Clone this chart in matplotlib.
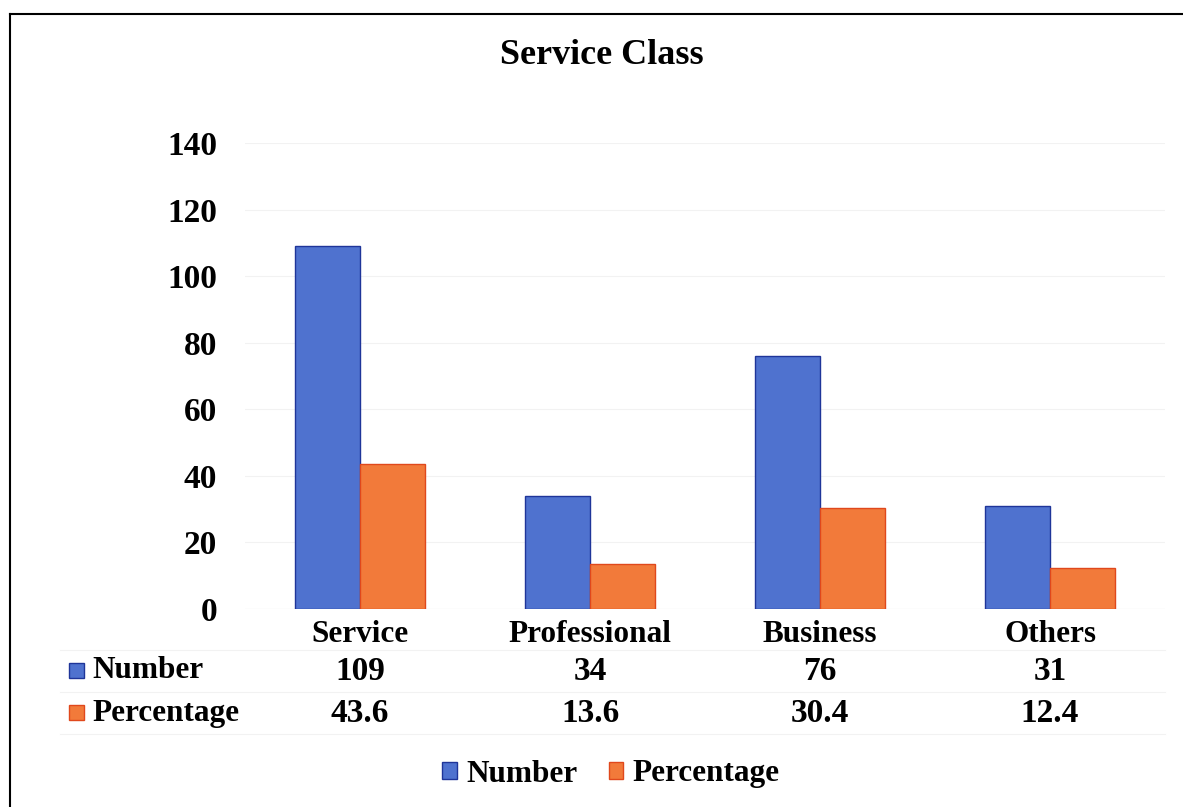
import matplotlib
matplotlib.use("Agg")
import matplotlib.pyplot as plt
from matplotlib.patches import Rectangle
from matplotlib.lines import Line2D
from matplotlib.transforms import blended_transform_factory
import numpy as np

categories = ["Service", "Professional", "Business", "Others"]
number = [109, 34, 76, 31]
percentage = [43.6, 13.6, 30.4, 12.4]
percentage_labels = ["43.6", "13.6", "30.4", "12.4"]
yticks = [0, 20, 40, 60, 80, 100, 120, 140]

plt.rcParams['font.family'] = ['Liberation Serif', 'DejaVu Serif']
plt.rcParams['font.weight'] = 'bold'

W, H = 1183, 807
fig = plt.figure(figsize=(W / 100, H / 100), dpi=100)

blue, blue_e = '#4F72CF', '#1F3599'
orange, orange_e = '#F27A3A', '#E0481C'
TXT = 22.5
NUM = 24

ax = fig.add_axes([245 / W, 1 - 609 / H, 920 / W, 466 / H])
x = np.arange(len(categories))
bw = 0.283
ax.bar(x - bw / 2, number, bw, color=blue, edgecolor=blue_e, linewidth=1.0, zorder=3)
ax.bar(x + bw / 2, percentage, bw, color=orange, edgecolor=orange_e, linewidth=1.0, zorder=3)
ax.set_xlim(-0.5, len(categories) - 0.5)
ax.set_ylim(0, 140)
ax.set_yticks(yticks)
ax.set_yticklabels([str(t) for t in yticks], fontsize=NUM, fontweight='bold')
ax.tick_params(axis='y', length=0, pad=20)
ax.set_xticks([])
for s in ax.spines.values():
    s.set_visible(False)
ax.grid(axis='y', color='#f2f2f2', linewidth=0.8, zorder=0)
ax.axhline(0, color='#e6e6e6', linewidth=0.8, zorder=2)

fig.text(602 / W, 1 - 56 / H, "Service Class", ha='center', va='center',
         fontsize=26, fontweight='bold')

tr = blended_transform_factory(ax.transData, fig.transFigure)
for i, c in enumerate(categories):
    ax.text(i, 1 - 634 / H, c, transform=tr, ha='center', va='center', fontsize=TXT, fontweight='bold')
    ax.text(i, 1 - 672 / H, str(number[i]), transform=tr, ha='center', va='center', fontsize=NUM, fontweight='bold')
    ax.text(i, 1 - 714 / H, percentage_labels[i], transform=tr, ha='center', va='center', fontsize=NUM, fontweight='bold')

# table row labels with keys
for ypix, lab, fc, ec in [(671, "Number", blue, blue_e), (713, "Percentage", orange, orange_e)]:
    fig.patches.append(Rectangle((69 / W, 1 - (ypix + 7) / H), 15 / W, 15 / H,
                                 transform=fig.transFigure, facecolor=fc, edgecolor=ec, linewidth=1))
    fig.text(92 / W, 1 - ypix / H, lab, ha='left', va='center', fontsize=TXT, fontweight='bold')

# faint table lines
for ypix in [650, 692, 734]:
    fig.lines.append(Line2D([60 / W, 1165 / W], [1 - ypix / H] * 2, transform=fig.transFigure,
                            color='#f2f2f2', linewidth=0.8))

handles = [Rectangle((0, 0), 1, 1, facecolor=blue, edgecolor=blue_e),
           Rectangle((0, 0), 1, 1, facecolor=orange, edgecolor=orange_e)]
fig.legend(handles, ["Number", "Percentage"], loc='center', bbox_to_anchor=(611 / W, 1 - 774 / H),
           ncol=2, frameon=False, prop={'size': TXT, 'weight': 'bold'},
           handlelength=0.47, handleheight=0.47, handletextpad=0.3, columnspacing=1.0)

# outer border
fig.lines.append(Line2D([10 / W, 10 / W], [0, 1 - 14 / H], transform=fig.transFigure, color='black', linewidth=1.5))
fig.lines.append(Line2D([10 / W, 1], [1 - 14 / H, 1 - 14 / H], transform=fig.transFigure, color='black', linewidth=1.5))

fig.savefig("out.png", dpi=100)
